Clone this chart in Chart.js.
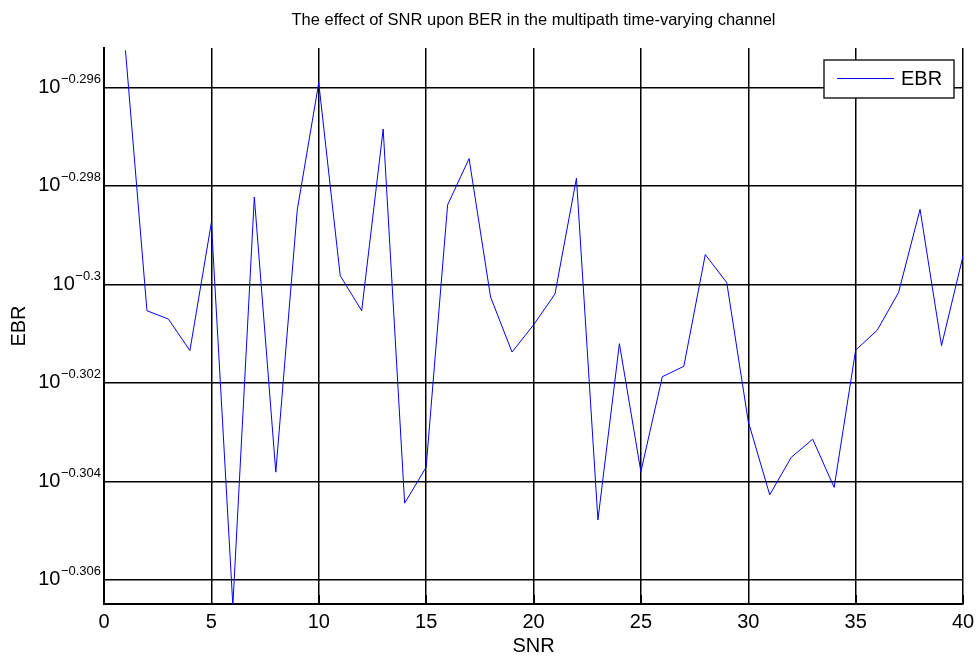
<!DOCTYPE html>
<html>
<head>
<meta charset="utf-8">
<script src="https://cdn.jsdelivr.net/npm/chart.js@4/dist/chart.umd.min.js"></script>
<style>
  html, body { margin: 0; padding: 0; background: #fff; }
  #wrap { width: 978px; height: 656px; position: relative; }
</style>
</head>
<body>
<div id="wrap"><canvas id="c" width="978" height="656"></canvas></div>
<script>
// ---- data ----
const chartTitle = 'The effect of SNR upon BER in the multipath time-varying channel';
const xAxisTitle = 'SNR';
const yAxisTitle = 'EBR';
const seriesName = 'EBR';
const snr = [1,2,3,4,5,6,7,8,9,10,11,12,13,14,15,16,17,18,19,20,21,22,23,24,25,26,27,28,29,30,31,32,33,34,35,36,37,38,39,40];
// log10(BER) values
const berExponent = [
  -0.29524, -0.30053, -0.30070, -0.30134, -0.29874, -0.30652, -0.29822, -0.30381, -0.29848, -0.29590,
  -0.29982, -0.30053, -0.29684, -0.30444, -0.30371, -0.29838, -0.29744, -0.30025, -0.30137, -0.30082,
  -0.30019, -0.29784, -0.30478, -0.30120, -0.30380, -0.30187, -0.30166, -0.29939, -0.29996, -0.30278,
  -0.30427, -0.30351, -0.30314, -0.30412, -0.30133, -0.30093, -0.30016, -0.29847, -0.30124, -0.29942
];
const xTickValues = [0, 5, 10, 15, 20, 25, 30, 35, 40];
const yTickValues = [-0.306, -0.304, -0.302, -0.300, -0.298, -0.296];
const yTickExponentLabels = ['\u22120.306', '\u22120.304', '\u22120.302', '\u22120.3', '\u22120.298', '\u22120.296'];

const FONT = '"Liberation Sans", Arial, Helvetica, sans-serif';

const points = snr.map((s, i) => ({ x: s, y: berExponent[i] }));

const decorPlugin = {
  id: 'decor',
  afterDraw(chart) {
    const ctx = chart.ctx;
    const ca = chart.chartArea;
    const ys = chart.scales.y;
    const xs = chart.scales.x;
    ctx.save();
    // title
    ctx.fillStyle = '#000';
    ctx.font = '16.5px ' + FONT;
    ctx.textAlign = 'center';
    ctx.textBaseline = 'middle';
    ctx.fillText(chartTitle, (ca.left + ca.right) / 2, 20);

    // inside tick marks on bottom axis
    ctx.strokeStyle = '#000';
    ctx.lineWidth = 1;
    xTickValues.forEach(v => {
      const px = Math.round(xs.getPixelForValue(v)) + 0.5;
      ctx.beginPath();
      ctx.moveTo(px, ca.bottom);
      ctx.lineTo(px, ca.bottom - 9);
      ctx.stroke();
    });

    // y tick labels: 10^exponent
    ctx.textAlign = 'right';
    ctx.textBaseline = 'alphabetic';
    const rightX = ca.left - 3;
    yTickValues.forEach((v, i) => {
      const py = ys.getPixelForValue(v);
      ctx.font = '13px ' + FONT;
      const sup = yTickExponentLabels[i];
      const w = ctx.measureText(sup).width;
      ctx.fillText(sup, rightX, py - 5);
      ctx.font = '20px ' + FONT;
      ctx.fillText('10', rightX - w - 0.5, py + 5);
    });

    // axis titles
    ctx.font = '20px ' + FONT;
    ctx.textAlign = 'center';
    ctx.textBaseline = 'middle';
    ctx.fillText(xAxisTitle, (ca.left + ca.right) / 2, 646);
    ctx.save();
    ctx.translate(19, (ca.top + ca.bottom) / 2);
    ctx.rotate(-Math.PI / 2);
    ctx.fillText(yAxisTitle, 0, 0);
    ctx.restore();

    // legend
    const lx = 824, ly = 60, lw = 130, lh = 38;
    ctx.fillStyle = '#fff';
    ctx.fillRect(lx, ly, lw, lh);
    ctx.strokeStyle = '#222';
    ctx.lineWidth = 1.5;
    ctx.strokeRect(lx, ly, lw, lh);
    ctx.strokeStyle = chart.data.datasets[0].borderColor;
    ctx.lineWidth = 1;
    ctx.beginPath();
    ctx.moveTo(837, 78.5);
    ctx.lineTo(894, 78.5);
    ctx.stroke();
    ctx.fillStyle = '#000';
    ctx.font = '20px ' + FONT;
    ctx.textAlign = 'left';
    ctx.textBaseline = 'middle';
    ctx.fillText(seriesName, 901, 79);
    ctx.restore();
  }
};

new Chart(document.getElementById('c'), {
  type: 'line',
  data: {
    datasets: [{
      label: seriesName,
      data: points,
      borderColor: '#0000ff',
      borderWidth: 1,
      pointRadius: 0,
      tension: 0,
      fill: false,
      clip: 0
    }]
  },
  options: {
    responsive: false,
    animation: false,
    devicePixelRatio: 1,
    layout: { padding: { top: 48, right: 15, bottom: 0, left: 0 } },
    plugins: {
      legend: { display: false },
      title: { display: false },
      tooltip: { enabled: false }
    },
    scales: {
      x: {
        type: 'linear',
        min: 0,
        max: 40,
        afterBuildTicks(scale) { scale.ticks = xTickValues.map(v => ({ value: v })); },
        afterFit(scale) { scale.height = 52; },
        ticks: {
          color: '#000',
          font: { family: FONT, size: 20, lineHeight: 1.5 },
          padding: 3,
          maxRotation: 0,
          autoSkip: false
        },
        grid: { color: '#000', lineWidth: 1.5, drawTicks: false },
        border: { display: true, color: '#000', width: 2 }
      },
      y: {
        type: 'linear',
        min: -0.306488,
        max: -0.295193,
        afterBuildTicks(scale) { scale.ticks = yTickValues.map(v => ({ value: v })); },
        afterFit(scale) { scale.width = 104; },
        ticks: { display: false },
        grid: { color: '#000', lineWidth: 1.5, drawTicks: false },
        border: { display: true, color: '#000', width: 2 }
      }
    }
  },
  plugins: [decorPlugin]
});
</script>
</body>
</html>
